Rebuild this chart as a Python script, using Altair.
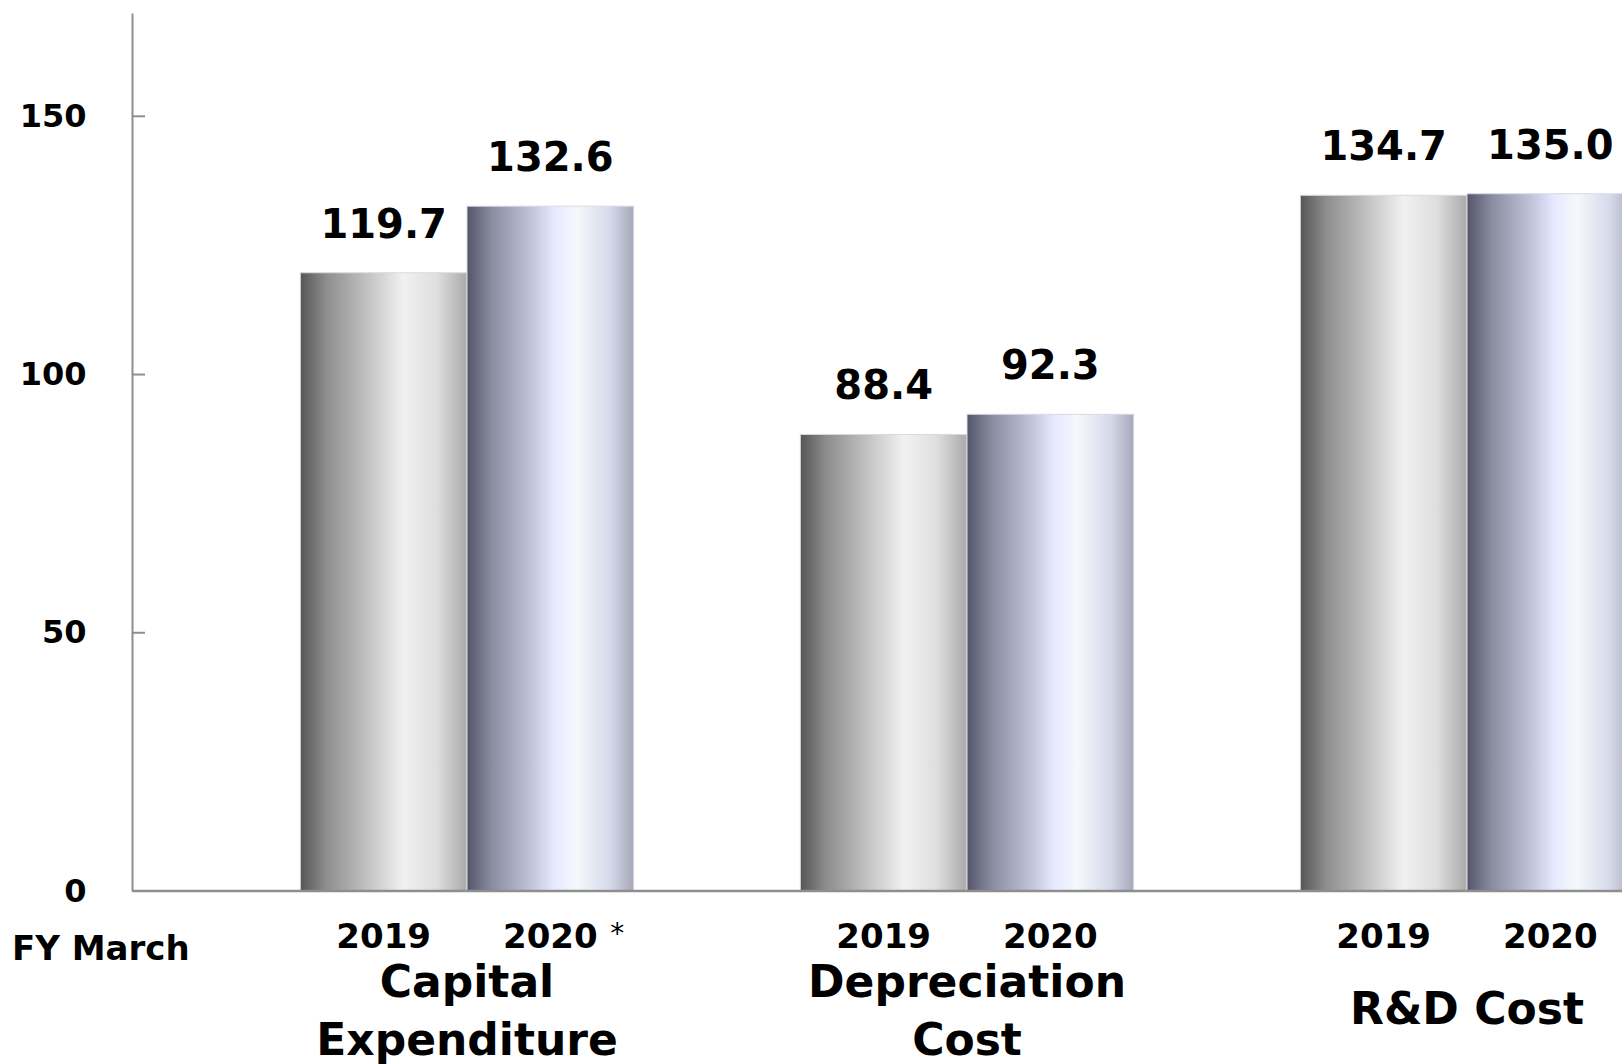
import altair as alt
import pandas as pd

# ---- data ----
categories = ["Capital Expenditure", "Depreciation Cost", "R&D Cost"]
category_labels = ["Capital\nExpenditure", "Depreciation\nCost", "R&D Cost"]
years = ["2019", "2020"]
values_2019 = [119.7, 88.4, 134.7]
values_2020 = [132.6, 92.3, 135.0]
notes_2020 = ["*", "", ""]
y_ticks = [0, 50, 100, 150]
x_axis_caption = ["FY March"]

rows = []
for i, c in enumerate(categories):
    rows.append({"category": c, "year": years[0], "value": values_2019[i], "note": ""})
    rows.append({"category": c, "year": years[1], "value": values_2020[i], "note": notes_2020[i]})
df = pd.DataFrame(rows)
cat_df = pd.DataFrame({"category": categories, "label": category_labels})
tick_df = pd.DataFrame({"value": [t for t in y_ticks if t > 0]})
cap_df = pd.DataFrame({"caption": x_axis_caption})

FONT = "DejaVu Sans"
AXIS_GRAY = "#8e8e8e"

y_scale = alt.Scale(domain=[0, 170], nice=False, zero=True)
x_enc = alt.X("category:N", sort=categories,
              scale=alt.Scale(domain=categories, range=[85, 1585], paddingInner=0, paddingOuter=0),
              axis=alt.Axis(labels=False, ticks=False, title=None, domain=False))
xo_enc = alt.XOffset("year:N", sort=years, scale=alt.Scale(domain=years, paddingInner=0, paddingOuter=0.5))
y_enc = alt.Y("value:Q", scale=y_scale,
              axis=alt.Axis(values=y_ticks, title=None, grid=False, ticks=False, labelPadding=46,
                            labelFontSize=32, labelFontWeight="bold", labelColor="black", labelFont=FONT,
                            domainColor=AXIS_GRAY, domainWidth=2))

grad_2019 = alt.LinearGradient(
    gradient="linear", x1=0, x2=1, y1=0, y2=0,
    stops=[alt.GradientStop(color="#555555", offset=0),
           alt.GradientStop(color="#8c8c8c", offset=0.15),
           alt.GradientStop(color="#c6c6c6", offset=0.42),
           alt.GradientStop(color="#f1f1f1", offset=0.62),
           alt.GradientStop(color="#dedede", offset=0.82),
           alt.GradientStop(color="#a9a9a9", offset=1)])
grad_2020 = alt.LinearGradient(
    gradient="linear", x1=0, x2=1, y1=0, y2=0,
    stops=[alt.GradientStop(color="#54556a", offset=0),
           alt.GradientStop(color="#8a8ca0", offset=0.15),
           alt.GradientStop(color="#c4c7dd", offset=0.4),
           alt.GradientStop(color="#e6e8ff", offset=0.52),
           alt.GradientStop(color="#f6f8fc", offset=0.66),
           alt.GradientStop(color="#d6d9ea", offset=0.86),
           alt.GradientStop(color="#a6a7b8", offset=1)])

base = alt.Chart(df)

bars_2019 = base.transform_filter(alt.datum.year == years[0]).mark_bar(
    clip=True, color=grad_2019, stroke="#d9d9d9", strokeWidth=1
).encode(x=x_enc, xOffset=xo_enc, y=y_enc)

bars_2020 = base.transform_filter(alt.datum.year == years[1]).mark_bar(
    clip=True, color=grad_2020, stroke="#d9d9e3", strokeWidth=1
).encode(x=x_enc, xOffset=xo_enc, y=y_enc)

value_labels = base.mark_text(
    baseline="bottom", dy=-27, fontSize=40, fontWeight="bold", font=FONT, color="black"
).encode(x=x_enc, xOffset=xo_enc, y=y_enc, text=alt.Text("value:Q", format=".1f"))

year_labels = base.mark_text(
    baseline="middle", fontSize=34, fontWeight="bold", font=FONT, color="black"
).encode(x=x_enc, xOffset=xo_enc, y=alt.value(925), text="year:N")

note_labels = base.mark_text(
    align="left", baseline="middle", dx=60, fontSize=28, font=FONT, color="black"
).encode(x=x_enc, xOffset=xo_enc, y=alt.value(922), text="note:N")

# multi-line category labels, vertically centred around the same line
cat_labels = alt.Chart(cat_df).transform_calculate(
    nlines="length(split(datum.label, '\\n'))",
    ypix="998 - (datum.nlines - 1) * 27",
).mark_text(
    baseline="middle", lineBreak="\n", lineHeight=58, fontSize=44, fontWeight="bold", font=FONT, color="black"
).encode(x=x_enc, y=alt.Y("ypix:Q", scale=None), text="label:N")

# baseline (x axis line) across the full plot width
baseline_rule = alt.Chart(cap_df).mark_rule(color=AXIS_GRAY, strokeWidth=2.5).encode(
    y=alt.datum(0, scale=y_scale))

# inward tick marks on the value axis
inner_ticks = alt.Chart(tick_df).mark_rule(color=AXIS_GRAY, strokeWidth=2).encode(
    y=alt.Y("value:Q", scale=y_scale), x=alt.value(0), x2=alt.value(13))

caption = alt.Chart(cap_df).mark_text(
    align="left", baseline="middle", fontSize=34, fontWeight="bold", font=FONT, color="black"
).encode(x=alt.value(-120), y=alt.value(937), text="caption:N")

chart = alt.layer(
    bars_2019, bars_2020, baseline_rule, value_labels, year_labels, note_labels, cat_labels,
    inner_ticks, caption
).properties(
    width=1490, height=878,
    autosize=alt.AutoSizeParams(type="none"),
    padding={"left": 132, "top": 13, "right": 0, "bottom": 173},
).configure(
    background="white", font=FONT, view=alt.ViewConfig(stroke=None)
)

chart.save("out.html", embed_options={"renderer": "svg", "actions": False})
